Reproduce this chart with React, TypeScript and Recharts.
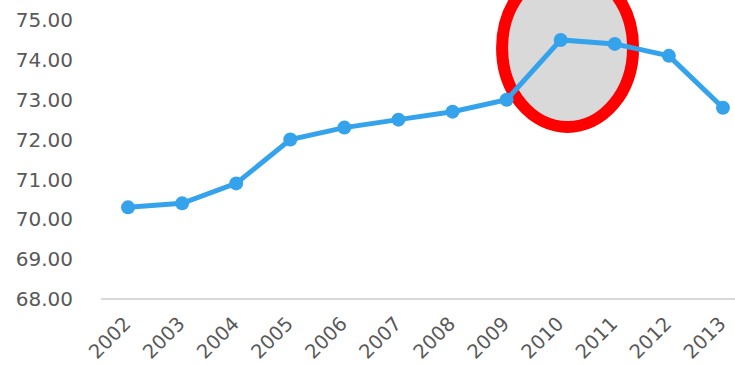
import React from "react";
import { ComposedChart, Bar, Line, XAxis, YAxis } from "recharts";

const years = ["2002", "2003", "2004", "2005", "2006", "2007", "2008", "2009", "2010", "2011", "2012", "2013"];
const values = [70.3, 70.4, 70.9, 72.0, 72.3, 72.5, 72.7, 73.0, 74.5, 74.4, 74.1, 72.8];
const yTicks = [68, 69, 70, 71, 72, 73, 74, 75];

// highlight oval sits on the 2010 peak
const highlightYear = "2010";
const highlightLevel = 74.3;

const data = years.map((year, i) => ({
  year,
  value: values[i],
  highlight: year === highlightYear ? highlightLevel : null,
}));

const FONT = "'DejaVu Sans', sans-serif";
const LABEL = "#595959";
const BLUE = "#35A3EC";

// rotated year labels, anchored at their end just under the tick
function YearTick(props: any) {
  const { x, y, payload } = props;
  const tx = x + 4;
  const ty = y + 18;
  return (
    <text
      x={tx}
      y={ty}
      transform={`rotate(-45, ${tx}, ${ty})`}
      textAnchor="end"
      fill={LABEL}
      fontSize={19.5}
      fontFamily={FONT}
    >
      {payload.value}
    </text>
  );
}

// bar shape turned into an oval centred on the top of the bar
function Oval(props: any) {
  const { x, y, width, value } = props;
  if (value == null || x == null || y == null) return <g />;
  return (
    <ellipse
      cx={x + width / 2 + 7}
      cy={y}
      rx={65.5}
      ry={79}
      fill="#d9d9d9"
      stroke="#ff0000"
      strokeWidth={12}
    />
  );
}

export default function App() {
  return (
    <div
      style={{
        position: "absolute",
        left: 0,
        top: 0,
        width: 735,
        height: 365,
        overflow: "hidden",
        background: "#fff",
      }}
    >
      <ComposedChart
        width={760}
        height={365}
        data={data}
        margin={{ top: 20, right: 10, bottom: 6, left: 11 }}
      >
        <XAxis
          dataKey="year"
          tick={<YearTick />}
          tickLine={false}
          axisLine={{ stroke: "#d9d9d9", strokeWidth: 2 }}
          interval={0}
          height={60}
        />
        <YAxis
          domain={[68, 75]}
          ticks={yTicks}
          tickFormatter={(v: number) => v.toFixed(2)}
          axisLine={false}
          tickLine={false}
          tickSize={0}
          tickMargin={28}
          width={90}
          tick={{ fill: LABEL, fontSize: 20, fontFamily: FONT }}
        />
        {/* oval goes first so the series line is painted over it */}
        <Bar dataKey="highlight" shape={<Oval />} isAnimationActive={false} />
        <Line
          dataKey="value"
          stroke={BLUE}
          strokeWidth={5}
          dot={{ r: 7, fill: BLUE, stroke: BLUE, strokeWidth: 0 }}
          activeDot={false}
          isAnimationActive={false}
        />
      </ComposedChart>
    </div>
  );
}
